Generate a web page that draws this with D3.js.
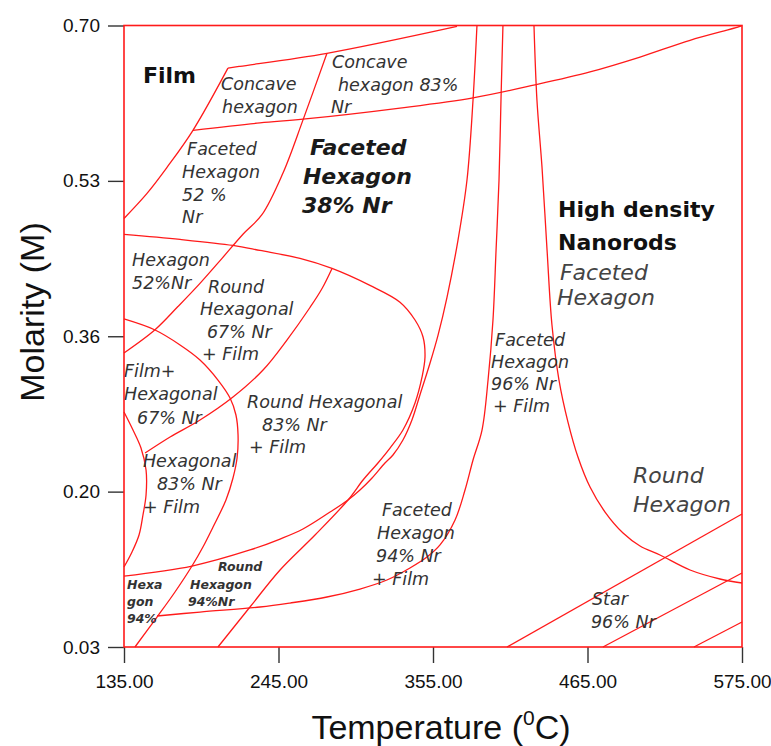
<!DOCTYPE html>
<html><head><meta charset="utf-8">
<script src="https://cdn.jsdelivr.net/npm/d3@7"></script>
<style>
html,body{margin:0;padding:0;background:#fff;}
svg{display:block;}
</style></head>
<body>
<svg id="chart" width="771" height="746"></svg>
<script>
// ---------- DATA ----------
const tempTicks = [135, 245, 355, 465, 575];
const tempTickLabels = ["135.00", "245.00", "355.00", "465.00", "575.00"];
const molTicks = [0.03, 0.1975, 0.365, 0.5325, 0.70];
const molTickLabels = ["0.03", "0.20", "0.36", "0.53", "0.70"];

// boundary curves: [Temperature (°C), Molarity (M)]
const filmBoundary = [[135,0.492],[151.4,0.519],[165.6,0.547],[184.1,0.587],[209.0,0.654]];
const concaveTop = [[209.0,0.654],[217.6,0.656],[279.5,0.670],[372.1,0.699]];
const concaveBottom = [[184.1,0.587],[231.8,0.595],[262.4,0.599],[331.5,0.611],[383.5,0.622],[427.6,0.636],[466.8,0.650],[502.4,0.666],[538.0,0.684],[573.6,0.699],[575,0.70]];
const concaveDivider = [[279.5,0.670],[262.4,0.598],[248.2,0.541],[233.2,0.496],[219.7,0.475],[204.8,0.449],[189.1,0.422],[173.4,0.397],[157.1,0.372],[135,0.347]];
const roundBoundary = [[135,0.4748],[174.9,0.4694],[212.6,0.4629],[231.8,0.4575],[260.3,0.4489],[283.1,0.4381],[310.1,0.4198],[331.5,0.4017],[342.2,0.3825],[347.9,0.3642],[349.3,0.3426],[347.2,0.3211],[342.2,0.2930],[333.6,0.2639],[324.4,0.2445],[315.8,0.2284],[305.2,0.2100],[294.5,0.1885],[271.0,0.1507],[246.1,0.1130],[224.7,0.0731],[201.9,0.03]];
const facetedLeft = [[386.3,0.70],[383.5,0.6197],[379.2,0.5334],[372.8,0.4687],[365.0,0.4073],[358.6,0.3663],[352.9,0.3362],[345.7,0.3017],[340.0,0.2747],[333.6,0.2531],[326.5,0.2370],[320.8,0.2284],[311.6,0.2122],[303.0,0.1992],[294.5,0.1885],[281.7,0.1755],[262.4,0.1572],[246.1,0.1464],[224.7,0.1346],[183.4,0.1173],[135,0.1065]];
const facetedMid = [[404.8,0.70],[403.4,0.6197],[402.0,0.5334],[399.9,0.4580],[397.7,0.3825],[394.2,0.3178],[389.9,0.2639],[383.5,0.2316],[377.8,0.1992],[370.7,0.1669],[360.0,0.1400],[350.7,0.1270],[338.6,0.1152],[322.2,0.1022],[303.0,0.0925],[279.5,0.0839],[253.2,0.0774],[231.8,0.0731],[189.1,0.0677],[158.5,0.0634]];
const nanorodBoundary = [[426.9,0.70],[429.0,0.6197],[432.6,0.5474],[436.2,0.4580],[439.7,0.3771],[444.7,0.3178],[451.1,0.2725],[458.2,0.2348],[466.8,0.2024],[477.5,0.1755],[490.3,0.1529],[502.4,0.1389],[516.6,0.1292],[538.0,0.1130],[559.3,0.1033],[575,0.0990]];
const roundDivider = [[283.1,0.4381],[276.0,0.4165],[267.4,0.3960],[251.0,0.3609],[234.0,0.3286],[212.6,0.2995],[189.1,0.2747],[167.8,0.2564],[150.0,0.2391]];
const hexArc = [[135,0.2833],[141.4,0.2639],[147.1,0.2445],[150.7,0.2208],[150.7,0.1939],[148.5,0.1723],[145.7,0.1507],[140.7,0.1324],[135,0.1162]];
const filmArc = [[135,0.3836],[157.1,0.3717],[174.9,0.3556],[189.1,0.3394],[201.9,0.3178],[210.5,0.2984],[214.7,0.2801],[216.2,0.2585],[215.5,0.2337],[212.6,0.2122],[207.6,0.1885],[198.4,0.1594],[191.2,0.1378],[183.4,0.1173],[171.3,0.0893],[158.5,0.0623],[142.8,0.03]];
const starLine1 = [[407.7,0.03],[575,0.1734]];
const starLine2 = [[476.0,0.03],[575,0.1098]];
const starLine3 = [[540.8,0.03],[575,0.0570]];

const boundaries = [filmBoundary, concaveTop, concaveBottom, concaveDivider, roundBoundary,
  facetedLeft, facetedMid, nanorodBoundary, roundDivider, hexArc, filmArc,
  starLine1, starLine2, starLine3];

// region label texts
const regionTexts = [
  ["Film"],
  ["Concave", "hexagon"],
  ["Concave", "hexagon 83%", "Nr"],
  ["Faceted", "Hexagon", "52 %", "Nr"],
  ["Faceted", "Hexagon", "38% Nr"],
  ["High density", "Nanorods"],
  ["Faceted", "Hexagon"],
  ["Hexagon", "52%Nr"],
  ["Round", "Hexagonal", "67% Nr", "+ Film"],
  ["Film+", "Hexagonal", "67% Nr"],
  ["Round Hexagonal", "83% Nr", "+ Film"],
  ["Hexagonal", "83% Nr", "+ Film"],
  ["Faceted", "Hexagon", "96% Nr", "+ Film"],
  ["Faceted", "Hexagon", "94% Nr", "+ Film"],
  ["Round", "Hexagon"],
  ["Star", "96% Nr"],
  ["Hexa", "gon", "94%"],
  ["Round", "Hexagon", "94%Nr"]
];

// ---------- LAYOUT / STYLE ----------
const W = 771, H = 746;
const plot = {left:124, right:742, top:25.5, bottom:647};
const x = d3.scaleLinear().domain([135, 575]).range([plot.left, plot.right]);
const y = d3.scaleLinear().domain([0.03, 0.70]).range([plot.bottom, plot.top]);

// label anchors (data coords of first line start), line spacing, per-line x offsets, style
const labelLayout = [
  {t:148.5, m:0.638, dy:0,  dx:[0], cls:"big"},
  {t:204.1, m:0.630, dy:23, dx:[0,1], cls:"mid"},
  {t:283.1, m:0.654, dy:22.5, dx:[0,6,-1], cls:"mid"},
  {t:179.9, m:0.560, dy:22.7, dx:[0,-5,-5,-5], cls:"mid"},
  {t:267.4, m:0.560, dy:29, dx:[0,-7,-8], cls:"bolditalic"},
  {t:444.0, m:0.4935, dy:33, dx:[0,0], cls:"big"},
  {t:445.4, m:0.4256, dy:25, dx:[0,-3], cls:"light"},
  {t:140.7, m:0.4407, dy:23, dx:[0,0], cls:"mid"},
  {t:194.8, m:0.4116, dy:22.3, dx:[0,-8,-1,-6], cls:"mid"},
  {t:135.0, m:0.3211, dy:23.5, dx:[0,0,13], cls:"mid"},
  {t:222.6, m:0.2876, dy:22.5, dx:[0,15,2], cls:"mid"},
  {t:148.5, m:0.2240, dy:23, dx:[0,14,0], cls:"mid"},
  {t:399.2, m:0.3545, dy:22, dx:[0,-4,-4,-2], cls:"mid"},
  {t:318.7, m:0.1714, dy:23, dx:[0,-5,-6,-10], cls:"mid"},
  {t:497.4, m:0.2068, dy:29, dx:[0,0], cls:"light"},
  {t:468.2, m:0.0753, dy:23, dx:[0,-1], cls:"mid"},
  {t:137.1, m:0.0925, dy:17, dx:[0,0,0], cls:"small"},
  {t:201.9, m:0.1119, dy:17.5, dx:[0,-28,-30], cls:"small"}
];
const textStyles = {
  big:       {size:"22px", weight:"bold",  style:"normal", fill:"#111"},
  mid:       {size:"17.5px", weight:"normal", style:"italic", fill:"#333"},
  bolditalic:{size:"22px", weight:"bold",  style:"italic", fill:"#1a1a1a"},
  light:     {size:"22px", weight:"normal", style:"italic", fill:"#444"},
  small:     {size:"12.5px", weight:"bold", style:"italic", fill:"#333"}
};

const svg = d3.select("#chart");
svg.append("rect").attr("width", W).attr("height", H).attr("fill", "#fff");

// boundaries
const line = d3.line().x(d => x(d[0])).y(d => y(d[1])).curve(d3.curveCatmullRom.alpha(0.5));
const gCurves = svg.append("g");
boundaries.forEach(b => {
  gCurves.append("path").attr("d", line(b)).attr("fill", "none")
    .attr("stroke", "#ff1a1a").attr("stroke-width", 1.3);
});

// axes
const xAxis = d3.axisBottom(x).tickValues(tempTicks).tickSize(16).tickPadding(12)
  .tickFormat((d, i) => tempTickLabels[i]);
const yAxis = d3.axisLeft(y).tickValues(molTicks).tickSize(16).tickPadding(8)
  .tickFormat((d, i) => molTickLabels[i]);
const gx = svg.append("g").attr("transform", `translate(0,${plot.bottom})`).call(xAxis);
const gy = svg.append("g").attr("transform", `translate(${plot.left},0)`).call(yAxis);
[gx, gy].forEach(g => {
  g.select(".domain").remove();
  g.selectAll(".tick line").attr("stroke", "#333").attr("stroke-width", 1.4);
  g.selectAll(".tick text").attr("fill", "#111")
    .style("font-family", "'Liberation Sans Narrow', 'Arial Narrow', 'Liberation Sans', sans-serif")
    .style("font-size", "19px");
});

// frame
svg.append("rect")
  .attr("x", x(135)).attr("y", y(0.70))
  .attr("width", x(575) - x(135)).attr("height", y(0.03) - y(0.70))
  .attr("fill", "none").attr("stroke", "#ff1a1a").attr("stroke-width", 1.6);

// region labels
const gLab = svg.append("g").style("font-family", "'DejaVu Sans', Verdana, sans-serif");
regionTexts.forEach((lines, i) => {
  const L = labelLayout[i], s = textStyles[L.cls];
  const t = gLab.append("text")
    .attr("font-size", s.size).attr("font-weight", s.weight)
    .attr("font-style", s.style).attr("fill", s.fill);
  lines.forEach((ln, j) => {
    t.append("tspan").attr("x", x(L.t) + (L.dx[j] || 0)).attr("y", y(L.m) + j * L.dy).text(ln);
  });
});

// axis titles
const xt = svg.append("text").attr("x", 441).attr("y", 739).attr("text-anchor", "middle")
  .style("font-family", "'Liberation Sans', Arial, sans-serif").style("font-size", "34px").attr("fill", "#111");
xt.append("tspan").text("Temperature (");
xt.append("tspan").text("0").style("font-size", "21px").attr("dy", -14);
xt.append("tspan").text("C)").attr("dy", 14);

svg.append("text").attr("transform", "translate(44,312) rotate(-90)").attr("text-anchor", "middle")
  .style("font-family", "'Liberation Sans', Arial, sans-serif").style("font-size", "34px").attr("fill", "#111")
  .text("Molarity (M)");
</script>
</body></html>
